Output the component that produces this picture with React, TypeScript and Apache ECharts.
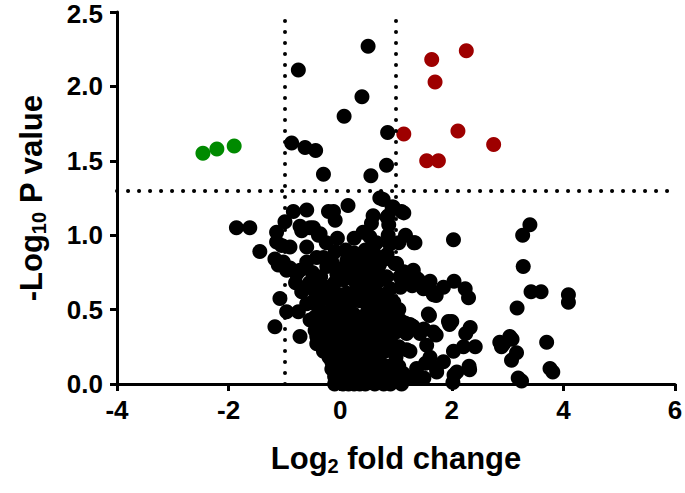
import { useEffect, useRef } from "react";
import * as echarts from "echarts";

const FONT = "'Liberation Sans', Arial, Helvetica, sans-serif";

const xRange = [-4, 6];
const yRange = [0, 2.5];
const pThreshold = 1.3;
const foldThresholds = [-1, 1];

const downRegulated: [number, number][] = [
  [-2.46, 1.55], [-2.21, 1.58], [-1.9, 1.6],
];

const upRegulated: [number, number][] = [
  [1.14, 1.68], [2.26, 2.24], [1.64, 2.18], [1.7, 2.03],
  [2.11, 1.7], [2.75, 1.61], [1.55, 1.5], [1.76, 1.5],
];

const notSignificant: [number, number][] = [
  // above threshold but small fold change
  [0.5, 2.27], [-0.75, 2.11], [0.39, 1.93], [0.07, 1.8], [0.85, 1.69],
  [-0.87, 1.62], [-0.63, 1.59], [-0.44, 1.57], [0.83, 1.47], [-0.3, 1.41], [0.55, 1.4],
  // 1.0 - 1.3
  [0.71, 1.25], [0.14, 1.2], [0.77, 1.24], [0.93, 1.19], [1.14, 1.15], [0.84, 1.12],
  [0.87, 1.07], [-0.12, 1.16], [-0.09, 1.1], [0.59, 1.13], [0.56, 1.08], [0.95, 1.19],
  [1.1, 1.16], [0.86, 1.13], [-0.84, 1.16], [-0.6, 1.17], [-0.21, 1.16], [-0.99, 1.09],
  [-1.14, 1.02], [-0.72, 1.06], [-0.48, 1.05], [-0.39, 1.0], [-1.86, 1.05], [-1.62, 1.05],
  [3.4, 1.07], [3.27, 1.0], [-0.69, 1.03], [-0.54, 1.05], [-0.36, 1.01], [0.41, 1.02],
  [0.53, 0.99], [0.86, 1.0], [1.17, 1.0],
  // 0.5 - 1.0
  [2.03, 0.97], [1.32, 0.95], [0.89, 0.94], [1.34, 0.95], [0.84, 0.87], [0.99, 0.81],
  [-1.14, 0.955], [-1.05, 0.93], [-1.44, 0.89], [-1.17, 0.84], [-1.11, 0.8], [-0.96, 0.765],
  [-0.78, 0.74], [-0.09, 0.89], [0.62, 0.87], [0.59, 0.81], [0.8, 0.84], [0.98, 0.81],
  [0.12, 0.83], [0.18, 0.765], [-0.06, 0.74], [0.32, 0.72], [0.06, 0.7], [0.59, 0.7],
  [0.83, 0.72], [1.07, 0.72], [1.25, 0.73], [1.4, 0.7], [1.61, 0.69], [1.85, 0.65],
  [2.04, 0.69], [2.24, 0.64], [2.3, 0.58], [3.28, 0.79], [3.42, 0.62], [3.6, 0.62],
  [4.09, 0.6], [4.09, 0.55], [3.17, 0.51], [-0.9, 0.92], [-0.6, 0.92], [-0.42, 0.85],
  [-0.24, 0.79], [-1.02, 0.82], [-0.72, 0.765], [-0.48, 0.71], [-0.3, 0.65], [0.18, 0.82],
  [0.35, 0.75], [0.24, 0.7], [0.47, 0.83], [0.59, 0.92], [1.01, 0.81], [1.19, 0.72],
  [1.31, 0.765], [1.14, 0.755], [1.37, 0.71], [1.5, 0.66], [1.62, 0.63], [1.72, 0.595],
  [0.9, 0.64], [1.08, 0.65], [1.29, 0.66], [0.96, 0.55], [1.05, 0.5], [-1.08, 0.575],
  [-0.69, 0.62], [-0.6, 0.54], [-0.36, 0.56], [-0.12, 0.5], [0.12, 0.52], [0.12, 0.61],
  [0.35, 0.56], [0.59, 0.61], [0.71, 0.52], [0.83, 0.59], [0.65, 0.68], [1.67, 0.6], [1.49, 0.64],
  // 0 - 0.5
  [-0.96, 0.485], [-0.75, 0.485], [-1.17, 0.385], [-0.72, 0.32], [-0.54, 0.43], [-0.36, 0.385],
  [-0.24, 0.43], [-0.06, 0.41], [-0.42, 0.27], [-0.24, 0.32], [-0.12, 0.24], [0.12, 0.27],
  [0.24, 0.32], [0.0, 0.14], [0.235, 0.16], [0.0, 0.05], [0.235, 0.03], [0.47, 0.09],
  [0.59, 0.21], [0.35, 0.23], [0.83, 0.385], [1.07, 0.43], [1.19, 0.34], [1.31, 0.385],
  [0.95, 0.25], [1.19, 0.23], [0.95, 0.12], [1.13, 0.07], [0.83, 0.03], [1.31, 0.05],
  [0.24, 0.47], [0.47, 0.47], [1.6, 0.46], [1.96, 0.4], [1.17, 0.39], [1.29, 0.39],
  [1.5, 0.37], [1.72, 0.33], [1.53, 0.14], [1.72, 0.11], [1.32, 0.04], [1.5, 0.04],
  [1.58, 0.47], [1.94, 0.42], [1.67, 0.35], [1.43, 0.34], [1.55, 0.26], [1.61, 0.18],
  [1.85, 0.15], [2.03, 0.22], [2.09, 0.08], [1.73, 0.08], [1.16, 0.41], [1.25, 0.4],
  [1.25, 0.22], [1.37, 0.105], [2.0, 0.42], [2.33, 0.38], [2.25, 0.34], [3.04, 0.32],
  [2.86, 0.28], [2.89, 0.25], [3.16, 0.21], [3.07, 0.16], [3.7, 0.28], [3.76, 0.105],
  [3.19, 0.04], [2.42, 0.25], [2.21, 0.25], [2.31, 0.12], [2.04, 0.06], [2.93, 0.27],
  [3.08, 0.3], [2.32, 0.095], [2.02, 0.01], [3.81, 0.08], [3.25, 0.02],
  // dense core
  [-0.45, 0.45], [-0.3, 0.48], [-0.15, 0.45], [0.0, 0.45], [0.1, 0.42], [0.3, 0.42],
  [0.4, 0.38], [0.55, 0.4], [0.7, 0.42], [0.9, 0.45], [-0.3, 0.22], [-0.2, 0.18],
  [-0.1, 0.35], [0.05, 0.33], [0.15, 0.36], [0.3, 0.3], [0.45, 0.28], [0.6, 0.3],
  [0.75, 0.3], [0.9, 0.32], [1.0, 0.35], [-0.05, 0.1], [0.1, 0.2], [0.1, 0.08],
  [0.15, 0.0], [0.3, 0.1], [0.4, 0.18], [0.5, 0.22], [0.6, 0.12], [0.7, 0.05],
  [0.7, 0.18], [0.8, 0.22], [0.85, 0.12], [1.0, 0.18], [1.05, 0.25], [0.4, 0.02],
  [0.55, 0.01], [-0.1, 0.0], [0.05, 0.0], [0.25, 0.08], [0.65, 0.25], [0.2, 0.55],
  [0.4, 0.6], [0.5, 0.65], [0.3, 0.65], [0.0, 0.6], [-0.2, 0.6], [-0.45, 0.62],
  [-0.5, 0.75], [-0.35, 0.72], [-0.1, 0.68], [0.05, 0.78], [0.3, 0.85], [0.45, 0.9],
  [0.7, 0.8], [0.75, 0.6], [0.5, 0.5], [-0.8, 0.68], [-0.9, 0.78], [-0.6, 0.82],
  [0.1, 0.9], [-0.25, 0.95], [-0.05, 0.98], [0.25, 0.98], [0.65, 0.95], [1.05, 0.95],
  [0.0, 0.3], [0.0, 0.2], [-0.2, 0.3], [0.2, 0.12], [0.35, 0.0], [0.9, 0.0], [1.1, 0.0],
  [-0.6, 0.65], [-0.5, 0.55], [-0.4, 0.52], [-0.3, 0.38], [-0.42, 0.32], [-0.15, 0.55],
  [-0.05, 0.52], [0.08, 0.48], [0.2, 0.4], [0.35, 0.35], [0.5, 0.33], [0.65, 0.36],
  [0.8, 0.35], [0.95, 0.38], [-0.15, 0.1], [-0.1, 0.05], [-0.15, 0.15], [0.05, 0.25],
  [0.2, 0.22], [0.3, 0.2], [0.42, 0.12], [0.52, 0.05], [0.62, 0.0], [0.75, 0.1],
  [0.85, 0.05], [1.0, 0.08], [1.05, 0.12], [0.95, 0.02], [0.78, 0.0], [0.25, 0.0],
  [0.45, 0.0], [0.12, 0.05], [0.55, 0.15], [0.68, 0.45], [0.8, 0.5], [0.92, 0.55],
  [0.55, 0.55], [0.45, 0.72], [0.6, 0.75], [0.72, 0.7], [0.2, 0.6], [0.25, 0.88],
  [0.4, 0.8], [-0.15, 0.82], [-0.3, 0.85], [-0.55, 0.68], [-0.25, 0.65], [0.1, 0.72],
  [-0.45, 0.36],
];

const xTitle = "{a|Log}{b|2}{a| fold change}";
const yTitle = "{a|-Log}{b|10}{a| P value}";

const titleRich = {
  a: { fontFamily: FONT, fontWeight: "bold" as const, fontSize: 31, color: "#000", lineHeight: 35 },
  b: { fontFamily: FONT, fontWeight: "bold" as const, fontSize: 20, color: "#000", lineHeight: 20, verticalAlign: "bottom" as const },
};

const labelFont = { color: "#000", fontFamily: FONT, fontWeight: "bold" as const, fontSize: 26 };

export default function App() {
  const ref = useRef<HTMLDivElement>(null);
  useEffect(() => {
    document.body.style.margin = "0";
    const chart = echarts.init(ref.current!, null, { renderer: "svg" });
    const axisCommon = {
      type: "value" as const,
      splitLine: { show: false },
      axisLine: { show: true, onZero: false, lineStyle: { color: "#000", width: 3 } },
      axisTick: { show: true, length: 7, lineStyle: { color: "#000", width: 3 } },
      axisLabel: { ...labelFont, lineHeight: 20 },
      nameLocation: "middle" as const,
      nameTextStyle: { rich: titleRich },
    };
    const symbolSize = 15;
    chart.setOption({
      animation: false,
      backgroundColor: "#fff",
      grid: { left: 117, right: 10, top: 12, bottom: 109, containLabel: false, outerBoundsMode: "none" },
      xAxis: {
        ...axisCommon,
        min: xRange[0],
        max: xRange[1],
        interval: 2,
        name: xTitle,
        nameGap: 57,
        axisLabel: { ...axisCommon.axisLabel, margin: 16 },
      },
      yAxis: {
        ...axisCommon,
        min: yRange[0],
        max: yRange[1],
        interval: 0.5,
        name: yTitle,
        nameGap: 68,
        nameRotate: 90,
        axisLabel: {
          ...axisCommon.axisLabel,
          margin: 14,
          formatter: (v: number) => (v === yRange[1] ? `{t|${v.toFixed(1)}}` : v.toFixed(1)),
          rich: { t: { ...labelFont, lineHeight: 20, padding: [4, 0, 0, 0] } },
        },
      },
      series: [
        {
          type: "scatter",
          data: [],
          z: 1,
          markLine: {
            silent: true,
            symbol: "none",
            label: { show: false },
            lineStyle: { color: "#000", width: 4, type: [0.1, 10.9], cap: "round" },
            data: [
              ...foldThresholds.map((v) => ({ xAxis: v })),
              { yAxis: pThreshold },
            ],
          },
        },
        {
          type: "scatter",
          data: notSignificant,
          symbolSize,
          itemStyle: { color: "#000", opacity: 1 },
          z: 3,
        },
        {
          type: "scatter",
          data: downRegulated,
          symbolSize,
          itemStyle: { color: "#008a00", opacity: 1 },
          z: 3,
        },
        {
          type: "scatter",
          data: upRegulated,
          symbolSize,
          itemStyle: { color: "#9e0000", opacity: 1 },
          z: 3,
        },
      ],
    });
    return () => chart.dispose();
  }, []);
  return <div ref={ref} style={{ width: 685, height: 493 }} />;
}
